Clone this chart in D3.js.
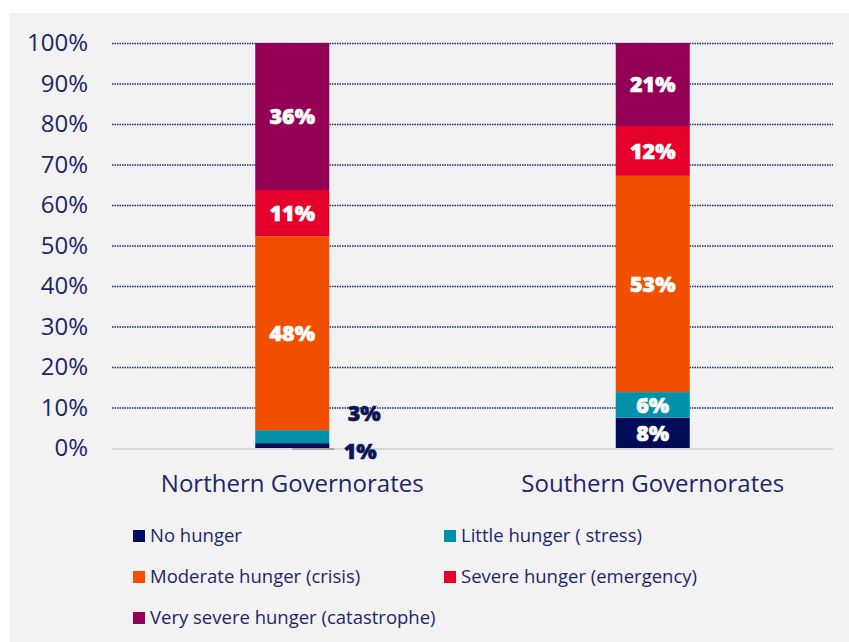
<!DOCTYPE html>
<html>
<head>
<meta charset="utf-8">
<script src="https://cdn.jsdelivr.net/npm/d3@7"></script>
<style>
  body { margin: 0; background: #fff; }
  svg { display: block; font-family: "Open Sans", sans-serif; }
</style>
</head>
<body>
<div id="chart"></div>
<script>
// data
var regions = ["Northern Governorates", "Southern Governorates"];
var levels = ["No hunger", "Little hunger ( stress)", "Moderate hunger (crisis)",
              "Severe hunger (emergency)", "Very severe hunger (catastrophe)"];
var northern = [1.2, 3.2, 47.9, 11.4, 36.3];
var southern = [7.5, 6.3, 53.4, 12.3, 20.5];
var northLabels = ["1%", "3%", "48%", "11%", "36%"];
var southLabels = ["8%", "6%", "53%", "12%", "21%"];
var yTicks = [0, 10, 20, 30, 40, 50, 60, 70, 80, 90, 100];
var colorList = ["#000c58", "#0090a8", "#f24e00", "#e4002b", "#930056"];

var width = 849, height = 642;
var navy = "#1c2769";

var rows = regions.map(function (r, i) {
    var vals = i === 0 ? northern : southern;
    var o = { region: r, labels: i === 0 ? northLabels : southLabels };
    levels.forEach(function (l, j) { o[l] = vals[j]; });
    return o;
});

var svg = d3.select("#chart").append("svg")
    .attr("width", width)
    .attr("height", height);

svg.append("rect")
    .attr("x", 9).attr("y", 13)
    .attr("width", width - 9).attr("height", height - 13)
    .attr("fill", "#f2f2f2");

var x = d3.scaleBand().domain(regions).range([112, 833]);
var y = d3.scaleLinear().domain([0, 100]).range([448, 43]);
var color = d3.scaleOrdinal().domain(levels).range(colorList);
var barW = 74;

// grid lines
svg.append("g").selectAll("line")
    .data(yTicks.filter(function (t) { return t > 0; }))
    .enter().append("line")
    .attr("x1", 112).attr("x2", 833)
    .attr("y1", function (d) { return y(d) + 0.5; })
    .attr("y2", function (d) { return y(d) + 0.5; })
    .attr("stroke", "#1f2a78")
    .attr("stroke-width", 1.3)
    .attr("stroke-dasharray", "1.5,1");

// y axis
var yAxis = svg.append("g")
    .attr("transform", "translate(88,0)")
    .call(d3.axisLeft(y).tickValues(yTicks).tickSize(0).tickPadding(0)
        .tickFormat(function (d) { return d + "%"; }));
yAxis.select(".domain").remove();
yAxis.selectAll("text")
    .attr("fill", navy)
    .attr("font-size", 24)
    .attr("font-family", "Open Sans, sans-serif");

// baseline
svg.append("line")
    .attr("x1", 112).attr("x2", 833)
    .attr("y1", y(0) + 1).attr("y2", y(0) + 1)
    .attr("stroke", "#d9d9d9")
    .attr("stroke-width", 2);

var stack = d3.stack().keys(levels);
var series = stack(rows);

var groups = svg.append("g").selectAll("g")
    .data(series)
    .enter().append("g")
    .attr("fill", function (d) { return color(d.key); });

groups.selectAll("rect")
    .data(function (d) { return d; })
    .enter().append("rect")
    .attr("x", function (d) { return x(d.data.region) + x.bandwidth() / 2 - barW / 2; })
    .attr("y", function (d) { return y(d[1]); })
    .attr("width", barW)
    .attr("height", function (d) { return y(d[0]) - y(d[1]); });

// leader line for the tiny slice
svg.append("line")
    .attr("x1", x(regions[0]) + x.bandwidth() / 2)
    .attr("x2", x(regions[0]) + x.bandwidth() / 2 + 42)
    .attr("y1", y(0) + 1).attr("y2", y(0) + 1)
    .attr("stroke", "#a6a6a6")
    .attr("stroke-width", 2);

// data labels
series.forEach(function (s, j) {
    s.forEach(function (d, i) {
        var cx = x(d.data.region) + x.bandwidth() / 2;
        var cy = (y(d[0]) + y(d[1])) / 2;
        var txt = d.data.labels[j];
        var fill = "#fff";
        if (i === 0 && j < 2) {
            // small slices labelled outside the bar
            fill = "#0b1459";
            cx = cx + barW / 2 + (j === 0 ? 31 : 35);
            cy = j === 0 ? y(0) + 3 : y(8.5);
        }
        svg.append("text")
            .attr("x", cx)
            .attr("y", cy)
            .attr("dy", "0.36em")
            .attr("text-anchor", "middle")
            .attr("fill", fill)
            .attr("font-size", 21.5)
            .attr("font-weight", 800)
            .attr("stroke", fill)
            .attr("stroke-width", 0.6)
            .text(txt);
    });
});

// category labels
svg.append("g").selectAll("text")
    .data(regions)
    .enter().append("text")
    .attr("x", function (d) { return x(d) + x.bandwidth() / 2; })
    .attr("y", 492)
    .attr("text-anchor", "middle")
    .attr("fill", navy)
    .attr("font-size", 24)
    .text(function (d) { return d; });

// legend
var legend = svg.append("g").selectAll("g")
    .data(levels)
    .enter().append("g")
    .attr("transform", function (d, i) {
        return "translate(" + (i % 2 === 0 ? 133 : 444) + "," + (536 + Math.floor(i / 2) * 41) + ")";
    });
legend.append("rect")
    .attr("x", 0).attr("y", -6)
    .attr("width", 12).attr("height", 12)
    .attr("fill", function (d) { return color(d); });
legend.append("text")
    .attr("x", 17)
    .attr("y", 0)
    .attr("dy", "0.35em")
    .attr("fill", navy)
    .attr("font-size", 18.5)
    .text(function (d) { return d; });
</script>
</body>
</html>
